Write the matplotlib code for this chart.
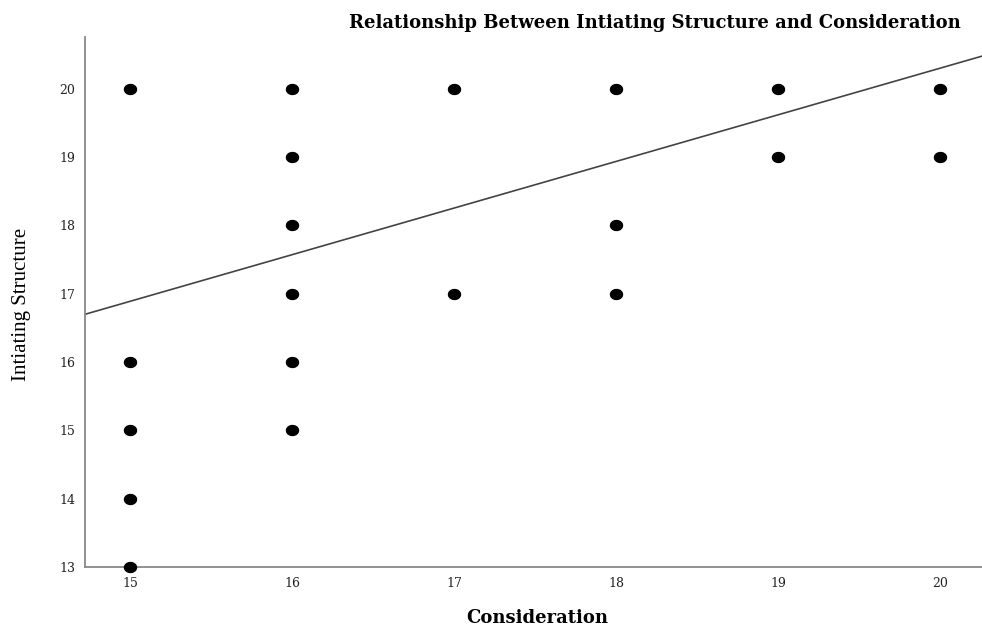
import numpy as np
import matplotlib
matplotlib.use("Agg")
import matplotlib.pyplot as plt

# data (Consideration vs Intiating Structure)
consideration = [15, 15, 15, 15, 15,
                 16, 16, 16, 16, 16, 16,
                 17, 17,
                 18, 18, 18,
                 19, 19,
                 20, 20]
structure = [20, 16, 15, 14, 13,
             20, 19, 18, 17, 16, 15,
             20, 17,
             20, 18, 17,
             20, 19,
             20, 19]

# fit line as drawn (slope, intercept)
fit_slope = 0.682
fit_intercept = 6.66

xticks = [15, 16, 17, 18, 19, 20]
yticks = [13, 14, 15, 16, 17, 18, 19, 20]

plt.rcParams['font.family'] = ['DejaVu Serif']

fig = plt.figure(figsize=(9.82, 6.26), dpi=100)
ax = fig.add_axes([0.0866, 0.0942, 0.9134, 0.847])

# slightly wide ellipse, like the SPSS markers
t = np.linspace(0, 2 * np.pi, 40)
ellipse = np.column_stack([1.15 * np.cos(t), 0.95 * np.sin(t)])
ax.scatter(consideration, structure, s=75, color='black', marker=ellipse,
           zorder=3, clip_on=False)

xl = (14.72, 20.26)
xx = np.array(xl)
ax.plot(xx, fit_slope * xx + fit_intercept, color='#444444', lw=1.2)

ax.set_xlim(*xl)
ax.set_ylim(13, 20.76)
ax.set_xticks(xticks)
ax.set_yticks(yticks)
ax.tick_params(length=0, labelsize=9, pad=7, colors='#222222')

for s in ['top', 'right']:
    ax.spines[s].set_visible(False)
for s in ['left', 'bottom']:
    ax.spines[s].set_color('#888888')
    ax.spines[s].set_linewidth(1.3)

fig.text(0.667, 0.963, "Relationship Between Intiating Structure and Consideration",
         ha='center', va='center', fontsize=13, fontweight='bold')
fig.text(0.547, 0.004, "Consideration", ha='center', va='baseline',
         fontsize=13, fontweight='bold')
fig.text(0.022, 0.513, "Intiating Structure", ha='center', va='center',
         rotation=90, fontsize=15, family='Liberation Serif')

fig.savefig("out.png", dpi=100)
